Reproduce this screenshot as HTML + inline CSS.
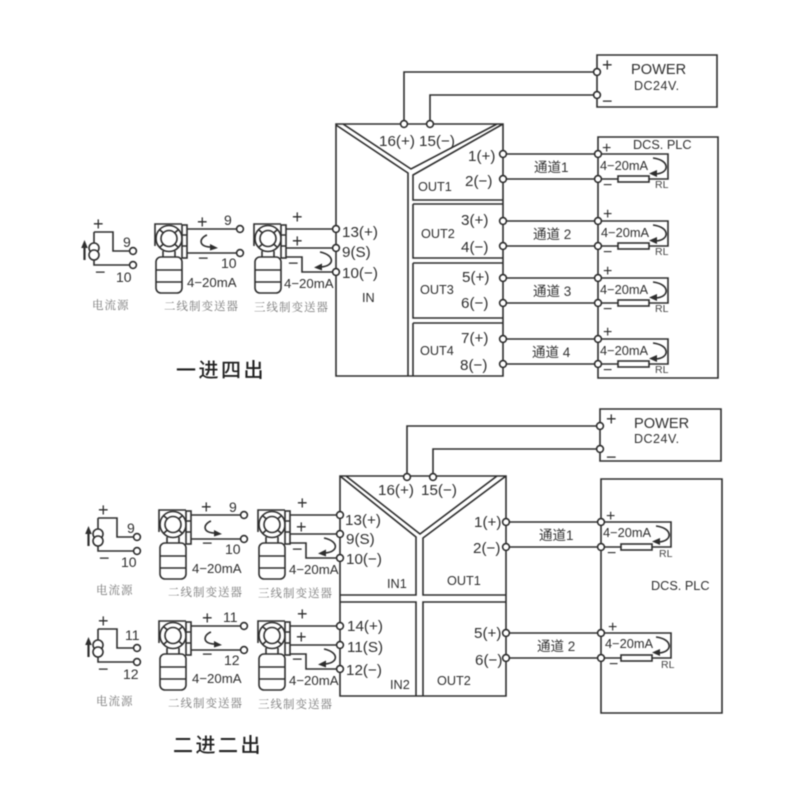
<!DOCTYPE html>
<html><head><meta charset="utf-8"><style>
html,body{margin:0;padding:0;background:#fff}
svg{display:block;filter:blur(.4px)}
text{font-family:"Liberation Sans","Noto Sans CJK SC",sans-serif;fill:#2e2e2e}
.t{font-size:15.2px}.o{font-size:12.7px}.s{font-size:13.2px}.w{font-size:12.8px}.r{font-size:10.5px;fill:#444}
.p{font-size:18px}.q{font-size:16px}.m{font-size:14px}.k{font-size:12.7px}
.pw{font-size:14.6px}.dc{font-size:12.5px;letter-spacing:.5px}
.c{font-size:13.5px;fill:#333}
.g{font-family:"Liberation Serif","Noto Serif CJK SC",serif;font-size:11.5px;fill:#777;letter-spacing:1px}
.h{font-size:20px;fill:#222;letter-spacing:2.5px;font-weight:500}
.l,.l *{fill:none;stroke:#2e2e2e;stroke-width:1.6}
.d{fill:#fff;stroke:#2e2e2e;stroke-width:1.6}
</style></head><body>
<svg width="800" height="800" viewBox="0 0 800 800" xmlns="http://www.w3.org/2000/svg">
<defs>
<g id="tm"><circle r="3.4" class="d"/></g>
<g id="tx">
 <path class="l" d="M0 22V0H27"/>
 <circle class="l" cx="14" cy="14.5" r="13"/>
 <circle class="l" cx="14" cy="14.5" r="8"/>
 <path class="l" d="M5 6L8.500 9M23 6L19.500 9M5 23L8.500 20M23 23L19.500 20"/>
 <path class="l" d="M8 27V33M20 27V33"/>
 <rect class="d" x="27" y="1" width="5" height="33"/>
 <path class="l" d="M27 11H32M27 22H32"/>
 <rect class="l" x="1" y="33" width="26" height="36" rx="5"/>
 <path class="l" d="M1 46H27M1 58H27"/>
</g>
<g id="two">
 <path class="l" d="M32 5H85M32 29H85"/>
 <use href="#tx"/>
 <use href="#tm" x="85" y="5"/><use href="#tm" x="85" y="29"/>
 <path class="l" d="M52 11C44 14 43 23 56 23"/>
 <path d="M63 24L55 20L55 26.500Z" fill="#2e2e2e"/>
</g>
<g id="three">
 <path class="l" d="M32 5H82M32 24H82M32 33H48V48H82"/>
 <use href="#tx"/>
 <use href="#tm" x="82" y="5"/><use href="#tm" x="82" y="24"/><use href="#tm" x="82" y="48"/>
 <path class="l" d="M66 28C81 31 81 42 67 43"/>
 <path d="M60 43.500L68 39.500L68 46.500Z" fill="#2e2e2e"/>
</g>
<g id="src">
 <path class="l" d="M0 0H19V19H36M0 0V33H36"/>
 <circle class="d" cx="0" cy="16" r="5"/><circle class="d" cx="0" cy="23" r="5"/>
 <path d="M-9.500 28V13" stroke="#2e2e2e" stroke-width="2.200"/>
 <path d="M-9.500 8L-12.800 16H-6.200Z" fill="#2e2e2e"/>
 <use href="#tm" x="39" y="19"/><use href="#tm" x="39" y="33"/>
</g>
<g id="loop">
 <path class="l" d="M0 0H70V25H0"/>
 <rect class="d" x="20" y="22" width="31" height="6"/>
 <path class="l" d="M55 4C72 6 72 19 58 20"/>
 <path d="M51 19.500L59 16L59 23Z" fill="#2e2e2e"/>
</g>
</defs>

<!-- TOP -->
<path class="l" d="M597 55H717V107H597ZM404 124V72H597M430 124V95H597"/>
<use href="#tm" x="597" y="72"/><use href="#tm" x="597" y="95"/>
<text x="602" y="71" class="p">+</text><text x="602" y="107" class="p">−</text>
<text x="631" y="74" class="pw">POWER</text>
<text x="634" y="90" class="dc">DC24V.</text>

<path class="l" d="M336 124H503V376H336ZM336 125L408 173V376M343 124L411 169L497 124M503 124L413 175V200H503M413 204H503M413 204V258H503M413 263H503M413 263V318H503M413 323H503M413 323V376"/>
<path class="l" d="M598 137H718V378H598Z"/>
<use href="#tm" x="404" y="124"/><use href="#tm" x="430" y="124"/>
<path class="l" d="M503 154H598M503 179H598M503 221H598M503 246H598M503 278H598M503 303H598M503 339H598M503 364H598"/>
<use href="#tm" x="503" y="154"/><use href="#tm" x="503" y="179"/><use href="#tm" x="503" y="221"/><use href="#tm" x="503" y="246"/><use href="#tm" x="503" y="278"/><use href="#tm" x="503" y="303"/><use href="#tm" x="503" y="339"/><use href="#tm" x="503" y="364"/>
<use href="#loop" x="598" y="154"/><use href="#loop" x="598" y="221"/><use href="#loop" x="598" y="278"/><use href="#loop" x="598" y="339"/>
<use href="#tm" x="598" y="154"/><use href="#tm" x="598" y="179"/><use href="#tm" x="598" y="221"/><use href="#tm" x="598" y="246"/><use href="#tm" x="598" y="278"/><use href="#tm" x="598" y="303"/><use href="#tm" x="598" y="339"/><use href="#tm" x="598" y="364"/>

<text x="379" y="146" class="t">16(+)</text><text x="419" y="146" class="t">15(−)</text>
<text x="468" y="161" class="t">1(+)</text><text x="465" y="186" class="t">2(−)</text>
<text x="418" y="191" class="o">OUT1</text>
<text x="461" y="225" class="t">3(+)</text><text x="461" y="252" class="t">4(−)</text>
<text x="421" y="238" class="o">OUT2</text>
<text x="462" y="282" class="t">5(+)</text><text x="461" y="308" class="t">6(−)</text>
<text x="420" y="294" class="o">OUT3</text>
<text x="461" y="343" class="t">7(+)</text><text x="460" y="370" class="t">8(−)</text>
<text x="420" y="355" class="o">OUT4</text>
<text x="362" y="302" class="o">IN</text>
<text x="342" y="237" class="t">13(+)</text><text x="342" y="257" class="t">9(S)</text><text x="342" y="278" class="t">10(−)</text>
<text x="534" y="172" class="c">通道1</text><text x="533" y="239" class="c">通道 2</text><text x="533" y="296" class="c">通道 3</text><text x="532" y="357" class="c">通道 4</text>
<text x="633" y="149" class="k">DCS. PLC</text>

<text x="602" y="153" class="q">+</text><text x="603" y="190" class="q">−</text><text x="600" y="170" class="w">4−20mA</text><text x="655" y="188" class="r">RL</text>
<text x="603" y="219" class="q">+</text><text x="603" y="257" class="q">−</text><text x="601" y="237" class="w">4−20mA</text><text x="655" y="255" class="r">RL</text>
<text x="603" y="276" class="q">+</text><text x="603" y="314" class="q">−</text><text x="600" y="294" class="w">4−20mA</text><text x="655" y="312" class="r">RL</text>
<text x="603" y="337" class="q">+</text><text x="603" y="375" class="q">−</text><text x="600" y="355" class="w">4−20mA</text><text x="655" y="373" class="r">RL</text>

<use href="#src" x="94" y="232"/>
<text x="93" y="230" class="p">+</text><text x="123" y="247" class="m">9</text><text x="95" y="278" class="p">−</text><text x="116" y="282" class="m">10</text>
<text x="92" y="309" class="g">电流源</text>
<use href="#two" x="155" y="224"/>
<text x="197" y="228" class="p">+</text><text x="224" y="225" class="m">9</text><text x="198" y="264" class="p">−</text><text x="221" y="268" class="m">10</text>
<text x="187" y="287" class="s">4−20mA</text>
<text x="164" y="310" class="g">二线制变送器</text>
<use href="#three" x="254" y="224"/>
<text x="292" y="223" class="p">+</text><text x="292" y="247" class="p">+</text><text x="288" y="269" class="p">−</text>
<text x="284" y="288" class="s">4−20mA</text>
<text x="254" y="311" class="g">三线制变送器</text>
<text x="176" y="377" class="h">一进四出</text>

<!-- BOTTOM -->
<path class="l" d="M600 409H721V461H600ZM407 477V426H600M433 477V449H600"/>
<use href="#tm" x="600" y="426"/><use href="#tm" x="600" y="449"/>
<text x="606" y="425" class="p">+</text><text x="606" y="463" class="p">−</text>
<text x="634" y="428" class="pw">POWER</text>
<text x="634" y="443" class="dc">DC24V.</text>

<path class="l" d="M340 476H506V696H340ZM340 476L416 537V595H340M346 476L420 534L497 476M506 476L423 538V595H506M340 602H416V696M423 696V602H506"/>
<path class="l" d="M601 479H722V713H601Z"/>
<use href="#tm" x="407" y="477"/><use href="#tm" x="433" y="477"/>
<path class="l" d="M506 522H601M506 547H601M506 633H601M506 658H601"/>
<use href="#tm" x="506" y="522"/><use href="#tm" x="506" y="547"/><use href="#tm" x="506" y="633"/><use href="#tm" x="506" y="658"/>
<use href="#loop" x="601" y="522"/><use href="#loop" x="601" y="633"/>
<use href="#tm" x="601" y="522"/><use href="#tm" x="601" y="547"/><use href="#tm" x="601" y="633"/><use href="#tm" x="601" y="658"/>

<text x="378" y="495" class="t">16(+)</text><text x="421" y="495" class="t">15(−)</text>
<text x="345" y="525" class="t">13(+)</text><text x="346" y="544" class="t">9(S)</text><text x="346" y="564" class="t">10(−)</text>
<text x="387" y="588" class="o">IN1</text><text x="447" y="585" class="o">OUT1</text>
<text x="474" y="527" class="t">1(+)</text><text x="473" y="553" class="t">2(−)</text>
<text x="347" y="631" class="t">14(+)</text><text x="347" y="652" class="t">11(S)</text><text x="346" y="675" class="t">12(−)</text>
<text x="390" y="689" class="o">IN2</text><text x="437" y="685" class="o">OUT2</text>
<text x="474" y="638" class="t">5(+)</text><text x="475" y="665" class="t">6(−)</text>
<text x="539" y="540" class="c">通道1</text><text x="537" y="651" class="c">通道 2</text>
<text x="651" y="590" class="k">DCS. PLC</text>

<text x="606" y="521" class="q">+</text><text x="607" y="558" class="q">−</text><text x="603" y="537" class="w">4−20mA</text><text x="659" y="557" class="r">RL</text>
<text x="608" y="632" class="q">+</text><text x="609" y="669" class="q">−</text><text x="605" y="648" class="w">4−20mA</text><text x="661" y="668" class="r">RL</text>

<use href="#src" x="98" y="518"/>
<text x="98" y="516" class="p">+</text><text x="127" y="533" class="m">9</text><text x="99" y="564" class="p">−</text><text x="121" y="567" class="m">10</text>
<text x="96" y="594" class="g">电流源</text>
<use href="#two" x="159" y="510"/>
<text x="201" y="513" class="p">+</text><text x="229" y="512" class="m">9</text><text x="202" y="549" class="p">−</text><text x="225" y="554" class="m">10</text>
<text x="192" y="573" class="s">4−20mA</text>
<text x="168" y="596" class="g">二线制变送器</text>
<use href="#three" x="258" y="510"/>
<text x="297" y="509" class="p">+</text><text x="296" y="533" class="p">+</text><text x="292" y="555" class="p">−</text>
<text x="289" y="574" class="s">4−20mA</text>
<text x="258" y="597" class="g">三线制变送器</text>

<use href="#src" x="98" y="629"/>
<text x="98" y="627" class="p">+</text><text x="125" y="640" class="m">11</text><text x="98" y="675" class="p">−</text><text x="123" y="679" class="m">12</text>
<text x="96" y="705" class="g">电流源</text>
<use href="#two" x="159" y="621"/>
<text x="202" y="624" class="p">+</text><text x="223" y="622" class="m">11</text><text x="202" y="660" class="p">−</text><text x="224" y="665" class="m">12</text>
<text x="192" y="683" class="s">4−20mA</text>
<text x="168" y="707" class="g">二线制变送器</text>
<use href="#three" x="258" y="621"/>
<text x="297" y="620" class="p">+</text><text x="296" y="643" class="p">+</text><text x="292" y="665" class="p">−</text>
<text x="289" y="685" class="s">4−20mA</text>
<text x="258" y="708" class="g">三线制变送器</text>
<text x="173" y="752" class="h">二进二出</text>
</svg>
</body></html>
